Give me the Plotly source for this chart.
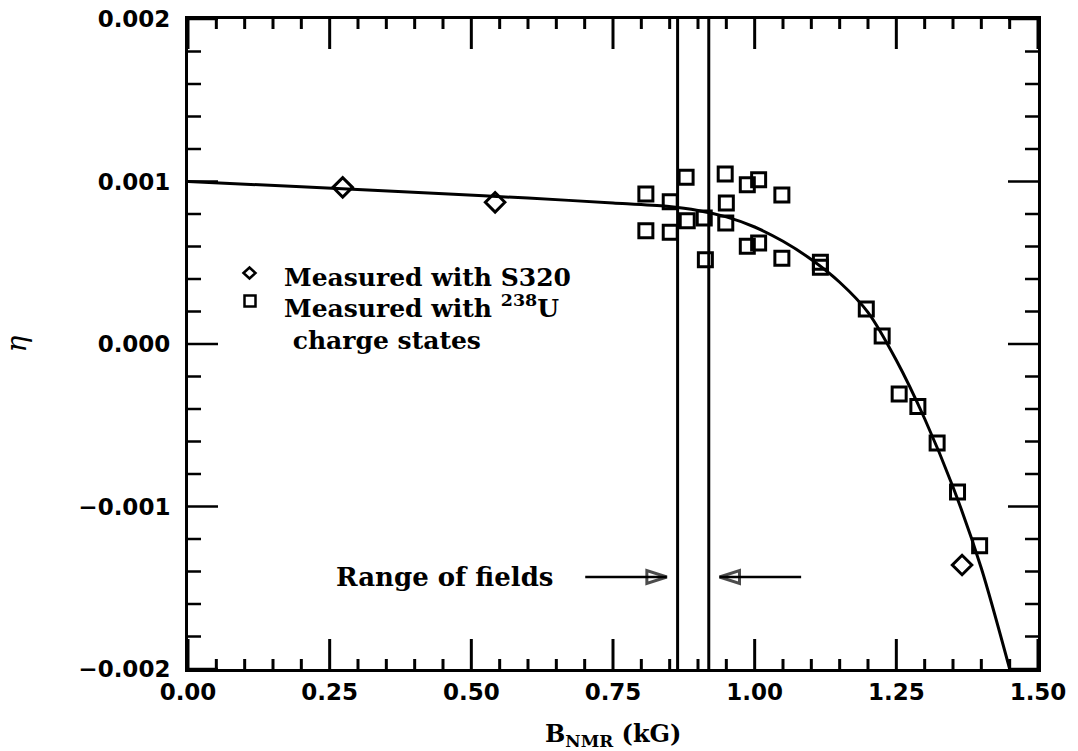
import plotly.graph_objects as go

# eta measured with the S320 spectrometer (diamonds)
s320_b = [0.273, 0.542, 1.366]
s320_eta = [0.964e-3, 0.872e-3, -1.360e-3]

# eta measured from 238U charge states (squares)
u238_b = [0.808, 0.808, 0.851, 0.851, 0.879, 0.881, 0.911, 0.913, 0.948, 0.950,
          0.949, 0.987, 0.987, 1.007, 1.007, 1.048, 1.048, 1.116, 1.116, 1.197,
          1.225, 1.255, 1.288, 1.322, 1.358, 1.397]
u238_eta = [0.923e-3, 0.697e-3, 0.876e-3, 0.687e-3, 1.026e-3, 0.759e-3, 0.775e-3,
            0.519e-3, 1.046e-3, 0.868e-3, 0.745e-3, 0.980e-3, 0.601e-3, 1.011e-3,
            0.622e-3, 0.917e-3, 0.527e-3, 0.503e-3, 0.472e-3, 0.215e-3, 0.049e-3,
            -0.308e-3, -0.384e-3, -0.609e-3, -0.911e-3, -1.241e-3]

# fitted curve
fit_b = [0.00, 0.20, 0.46, 0.60, 0.75, 0.845, 0.90, 0.95, 1.00, 1.05, 1.10,
         1.15, 1.20, 1.25, 1.30, 1.35, 1.40, 1.45]
fit_eta = [1.000e-3, 0.967e-3, 0.923e-3, 0.898e-3, 0.868e-3, 0.847e-3, 0.822e-3,
           0.782e-3, 0.720e-3, 0.632e-3, 0.520e-3, 0.380e-3, 0.195e-3, -0.100e-3,
           -0.460e-3, -0.880e-3, -1.380e-3, -2.000e-3]

# range of fields used
field_range = [0.864, 0.919]
arrow_eta = -1.434e-3
arrow_left_b = [0.701, 0.845]
arrow_right_b = [1.082, 0.938]

# axes
x_range = [0.0, 1.5]
y_range = [-0.002, 0.002]
x_major = [0.0, 0.25, 0.5, 0.75, 1.0, 1.25, 1.5]
y_major = [-0.002, -0.001, 0.0, 0.001, 0.002]
x_minor = [round(i * 0.05, 2) for i in range(31) if i % 5]
y_minor = [round(i * 0.0002 - 0.002, 4) for i in range(21) if i % 5]

SERIF = "DejaVu Serif"
SANS = "DejaVu Sans"
BLACK = "black"

# page and plot area in pixels
L, R, T, B = 188, 40, 19, 82
W, H = 1078, 751
PW, PH = W - L - R, H - T - B


def px(xp):
    return (xp - L) / PW


def py(yp):
    return 1 - (yp - T) / PH


fig = go.Figure()

fig.add_trace(go.Scatter(
    x=fit_b, y=fit_eta, mode="lines", showlegend=False,
    line=dict(color=BLACK, width=3, shape="spline", smoothing=0.8),
))

fig.add_trace(go.Scatter(
    x=s320_b, y=s320_eta, mode="markers", showlegend=False,
    name="Measured with S320",
    marker=dict(symbol="diamond-open", size=15, color=BLACK,
                line=dict(width=3, color=BLACK)),
))

fig.add_trace(go.Scatter(
    x=u238_b, y=u238_eta, mode="markers", showlegend=False,
    name="Measured with 238U charge states",
    marker=dict(symbol="square-open", size=14, color=BLACK,
                line=dict(width=3, color=BLACK)),
))

for xs in (arrow_left_b, arrow_right_b):
    fig.add_trace(go.Scatter(
        x=xs, y=[arrow_eta, arrow_eta], mode="lines+markers", showlegend=False,
        line=dict(color=BLACK, width=2.5),
        marker=dict(symbol="arrow-open", size=[0, 21], angleref="previous",
                    color=BLACK, line=dict(width=3, color=BLACK)),
    ))

for xv in field_range:
    fig.add_shape(type="line", xref="x", yref="paper", x0=xv, x1=xv, y0=0, y1=1,
                  line=dict(color=BLACK, width=3))

# inward tick marks on all four sides; lengths given in pixels
y_per_px = (y_range[1] - y_range[0]) / PH
for vals, length in ((x_major, 30), (x_minor, 10)):
    d = length * y_per_px
    for v in vals:
        for base, sign in ((y_range[0], 1), (y_range[1], -1)):
            fig.add_shape(type="line", xref="x", yref="y", x0=v, x1=v,
                          y0=base, y1=base + sign * d,
                          line=dict(color=BLACK, width=3), layer="above")
for vals, length in ((y_major, 30), (y_minor, 13)):
    for v in vals:
        for anchor, sign in ((0, 1), (1, -1)):
            fig.add_shape(type="line", yref="y", xref="paper", y0=v, y1=v,
                          xsizemode="pixel", xanchor=anchor, x0=0, x1=sign * length,
                          line=dict(color=BLACK, width=2.5), layer="above")

text_font = dict(family=SERIF, size=25, color=BLACK, weight="bold")

fig.add_annotation(
    x=arrow_left_b[0], y=arrow_eta, xref="x", yref="y", xanchor="right",
    xshift=-30, text="Range of fields", showarrow=False,
    font=dict(text_font, size=26),
)

# legend: symbols
dh, dv = 6.0 / PW, 5.5 / PH
cx, cy = px(249.5), py(273)
fig.add_shape(type="path", xref="paper", yref="paper",
              path=f"M {cx - dh},{cy} L {cx},{cy + dv} L {cx + dh},{cy} L {cx},{cy - dv} Z",
              line=dict(color=BLACK, width=2.5))
sh, sv = 5.5 / PW, 5.5 / PH
cx, cy = px(250), py(301)
fig.add_shape(type="rect", xref="paper", yref="paper",
              x0=cx - sh, x1=cx + sh, y0=cy - sv, y1=cy + sv,
              line=dict(color=BLACK, width=2.5))

# legend: labels
fig.add_annotation(x=px(282), y=py(277), xref="paper", yref="paper",
                   xanchor="left", yanchor="middle", text="Measured with S320",
                   showarrow=False, font=text_font)
fig.add_annotation(x=px(282), y=py(323), xref="paper", yref="paper",
                   xanchor="left", yanchor="middle", align="left",
                   text="Measured with <sup>238</sup>U<br>\u00a0charge states",
                   showarrow=False, font=text_font)

# x-axis title, set low near the page edge
fig.add_annotation(x=0.5, y=py(735), xref="paper", yref="paper",
                   xanchor="center", yanchor="middle",
                   text="B<sub>NMR</sub> (kG)", showarrow=False,
                   font=dict(family=SERIF, size=24, color=BLACK, weight="bold"))

axis_style = dict(showline=True, linecolor=BLACK, linewidth=3, mirror=True,
                  ticks="", showgrid=False, zeroline=False,
                  tickfont=dict(family=SANS, size=23, color=BLACK, weight="bold"))

fig.update_layout(
    width=W, height=H,
    margin=dict(l=L, r=R, t=T, b=B, autoexpand=False),
    paper_bgcolor="white", plot_bgcolor="white",
    showlegend=False,
    xaxis=dict(
        **axis_style, range=x_range, tickmode="array",
        tickvals=x_major, ticktext=[f"{v:.2f}" for v in x_major],
    ),
    yaxis=dict(
        **axis_style, range=y_range, tickmode="array",
        tickvals=y_major,
        ticktext=["\u22120.002", "\u22120.001", "0.000", "0.001", "0.002"],
        ticklabelstandoff=10,
        title=dict(text="\u03b7", standoff=48,
                   font=dict(family=SERIF, size=28, color=BLACK, style="italic")),
    ),
)

fig.write_html("out.html")
